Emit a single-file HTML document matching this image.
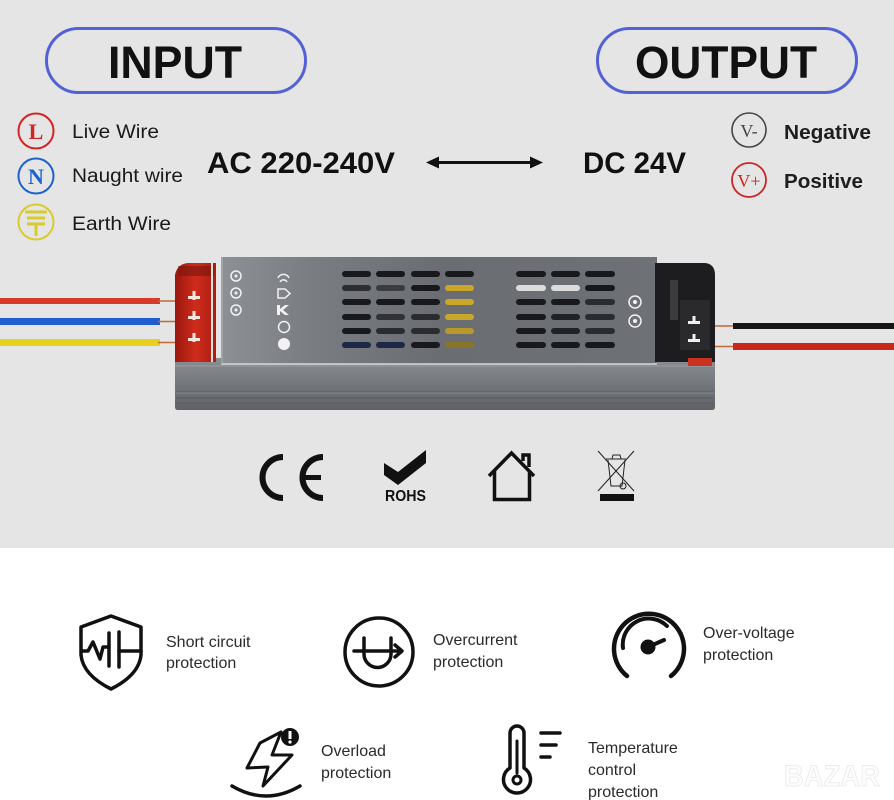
<!DOCTYPE html>
<html><head><meta charset="utf-8"><style>
html,body{margin:0;padding:0;background:#fff;}
svg{display:block;}
text{font-family:"Liberation Sans",Arial,sans-serif;}
</style></head><body>
<svg width="894" height="800" viewBox="0 0 894 800" xmlns="http://www.w3.org/2000/svg">
<defs>
<linearGradient id="plate" x1="0" y1="0" x2="1" y2="0">
<stop offset="0" stop-color="#8d9095"/><stop offset="0.2" stop-color="#7a7d82"/><stop offset="0.5" stop-color="#6a6d72"/><stop offset="1" stop-color="#6e7176"/>
</linearGradient>
<linearGradient id="ext" x1="0" y1="0" x2="0" y2="1">
<stop offset="0" stop-color="#8b8e93"/><stop offset="0.5" stop-color="#74777c"/><stop offset="1" stop-color="#5e6166"/>
</linearGradient>
<linearGradient id="red" x1="0" y1="0" x2="1" y2="0">
<stop offset="0" stop-color="#9a170e"/><stop offset="0.5" stop-color="#cf2c1c"/><stop offset="1" stop-color="#a81e12"/>
</linearGradient>
</defs>
<rect x="0" y="0" width="894" height="548" fill="#e5e5e5"/>
<rect x="0" y="548" width="894" height="252" fill="#ffffff"/>

<!-- pills -->
<rect x="46.5" y="28.5" width="259" height="64" rx="32" fill="none" stroke="#5262d4" stroke-width="3"/>
<text x="175" y="78" font-size="45" font-weight="bold" text-anchor="middle" fill="#111" textLength="134" lengthAdjust="spacingAndGlyphs">INPUT</text>
<rect x="597.5" y="28.5" width="259" height="64" rx="32" fill="none" stroke="#5262d4" stroke-width="3"/>
<text x="726" y="78" font-size="45" font-weight="bold" text-anchor="middle" fill="#111" textLength="182" lengthAdjust="spacingAndGlyphs">OUTPUT</text>

<!-- input legend -->
<circle cx="36" cy="131" r="17.5" fill="none" stroke="#d42323" stroke-width="2"/>
<text x="36" y="139" font-size="22" font-weight="bold" text-anchor="middle" fill="#d42323" style="font-family:'Liberation Serif',serif">L</text>
<circle cx="36" cy="176" r="17.5" fill="none" stroke="#1c62cc" stroke-width="2"/>
<text x="36" y="184" font-size="22" font-weight="bold" text-anchor="middle" fill="#1c62cc" style="font-family:'Liberation Serif',serif">N</text>
<circle cx="36" cy="222" r="17.5" fill="none" stroke="#d9cb2c" stroke-width="2"/>
<g stroke="#d9cb2c" stroke-width="3" stroke-linecap="butt">
<line x1="25" y1="212" x2="47" y2="212"/><line x1="27" y1="218" x2="45" y2="218"/><line x1="27" y1="224" x2="45" y2="224"/><line x1="36" y1="224" x2="36" y2="236"/>
</g>
<text x="72" y="138" font-size="19" fill="#1a1a1a" textLength="87" lengthAdjust="spacingAndGlyphs">Live Wire</text>
<text x="72" y="182" font-size="19" fill="#1a1a1a" textLength="111" lengthAdjust="spacingAndGlyphs">Naught wire</text>
<text x="72" y="230" font-size="19" fill="#1a1a1a" textLength="99" lengthAdjust="spacingAndGlyphs">Earth Wire</text>

<!-- voltages -->
<text x="207" y="173" font-size="30" font-weight="bold" fill="#111" textLength="188" lengthAdjust="spacingAndGlyphs">AC 220-240V</text>
<text x="583" y="173" font-size="30" font-weight="bold" fill="#111" textLength="103" lengthAdjust="spacingAndGlyphs">DC 24V</text>
<line x1="436" y1="162.5" x2="533" y2="162.5" stroke="#111" stroke-width="3"/>
<polygon points="426,162.5 439,156.5 439,168.5" fill="#111"/>
<polygon points="543,162.5 530,156.5 530,168.5" fill="#111"/>

<!-- output legend -->
<circle cx="749" cy="130" r="17" fill="none" stroke="#444" stroke-width="1.6"/>
<text x="749" y="137" font-size="18" text-anchor="middle" fill="#444" style="font-family:'Liberation Serif',serif">V-</text>
<circle cx="749" cy="180" r="17" fill="none" stroke="#cc2424" stroke-width="1.8"/>
<text x="749" y="187" font-size="18" text-anchor="middle" fill="#cc2424" style="font-family:'Liberation Serif',serif">V+</text>
<text x="784" y="139" font-size="20" font-weight="bold" fill="#1e1e1e" textLength="87" lengthAdjust="spacingAndGlyphs">Negative</text>
<text x="784" y="188" font-size="20" font-weight="bold" fill="#1e1e1e" textLength="79" lengthAdjust="spacingAndGlyphs">Positive</text>

<!-- device: wires -->
<rect x="0" y="298" width="160" height="6" fill="#d8392a"/>
<rect x="0" y="318" width="160" height="7" fill="#1f5ed0"/>
<rect x="0" y="339" width="160" height="7" fill="#e6d11f"/>
<g stroke="#c06a3a" stroke-width="1.5">
<line x1="158" y1="301" x2="185" y2="301"/><line x1="158" y1="321.5" x2="185" y2="321.5"/><line x1="158" y1="342.5" x2="185" y2="342.5"/>
<line x1="710" y1="326" x2="735" y2="326"/><line x1="710" y1="346.5" x2="735" y2="346.5"/>
</g>
<rect x="733" y="323" width="161" height="6" fill="#161616"/>
<rect x="733" y="343" width="161" height="7" fill="#c9261d"/>

<!-- lower extrusion -->
<path d="M175 358 L715 358 L715 407 Q715 410 712 410 L178 410 Q175 410 175 407 Z" fill="url(#ext)"/>
<g stroke-width="1">
<line x1="176" y1="366" x2="714" y2="366" stroke="#9a9da2"/>
<line x1="176" y1="392" x2="714" y2="392" stroke="#5a5d62"/>
<line x1="176" y1="393" x2="714" y2="393" stroke="#8e9196"/>
<line x1="176" y1="398" x2="714" y2="398" stroke="#5a5d62"/>
<line x1="176" y1="403" x2="714" y2="403" stroke="#5a5d62"/>
</g>

<!-- red terminal -->
<path d="M175 275 Q177 264 188 263 L216 263 L216 362 L175 362 Z" fill="url(#red)"/>
<rect x="178" y="266" width="36" height="10" fill="#7a150e" opacity="0.6"/>
<line x1="212" y1="262" x2="212" y2="362" stroke="#e0e0e0" stroke-width="2"/>
<g fill="#f4e6e0">
<rect x="188" y="296" width="12" height="3"/><rect x="192.5" y="291" width="3" height="9"/>
<rect x="188" y="316" width="12" height="3"/><rect x="192.5" y="311" width="3" height="9"/>
<rect x="188" y="338" width="12" height="3"/><rect x="192.5" y="333" width="3" height="9"/>
</g>

<!-- top plate -->
<rect x="221" y="257" width="436" height="107" fill="url(#plate)"/>
<line x1="221" y1="364" x2="657" y2="364" stroke="#d8dadd" stroke-width="1.5"/>
<line x1="222" y1="257" x2="222" y2="364" stroke="#a5a8ad" stroke-width="1.5"/>

<!-- vent slots -->
<g fill="#17191c">
<rect x="342" y="271" width="29" height="6" rx="3"/><rect x="376" y="271" width="29" height="6" rx="3"/><rect x="411" y="271" width="29" height="6" rx="3"/>
<rect x="342" y="285" width="29" height="6" rx="3" fill="#2c2e32"/><rect x="376" y="285" width="29" height="6" rx="3" fill="#3a3c40"/><rect x="411" y="285" width="29" height="6" rx="3"/>
<rect x="342" y="299" width="29" height="6" rx="3"/><rect x="376" y="299" width="29" height="6" rx="3"/><rect x="411" y="299" width="29" height="6" rx="3"/>
<rect x="342" y="314" width="29" height="6" rx="3"/><rect x="376" y="314" width="29" height="6" rx="3" fill="#303236"/><rect x="411" y="314" width="29" height="6" rx="3" fill="#2a2c30"/>
<rect x="342" y="328" width="29" height="6" rx="3"/><rect x="376" y="328" width="29" height="6" rx="3" fill="#2a2c30"/><rect x="411" y="328" width="29" height="6" rx="3" fill="#2a2c30"/>
<rect x="342" y="342" width="29" height="6" rx="3" fill="#1c2846"/><rect x="376" y="342" width="29" height="6" rx="3" fill="#1c2846"/><rect x="411" y="342" width="29" height="6" rx="3"/>
<rect x="445" y="271" width="29" height="6" rx="3"/>
<rect x="445" y="285" width="29" height="6" rx="3" fill="#c9a72a"/><rect x="445" y="299" width="29" height="6" rx="3" fill="#c9a72a"/><rect x="445" y="314" width="29" height="6" rx="3" fill="#c9a72a"/><rect x="445" y="328" width="29" height="6" rx="3" fill="#b99a28"/><rect x="445" y="342" width="29" height="6" rx="3" fill="#8a7426"/>
<rect x="516" y="271" width="30" height="6" rx="3"/><rect x="551" y="271" width="29" height="6" rx="3"/><rect x="585" y="271" width="30" height="6" rx="3"/>
<rect x="516" y="285" width="30" height="6" rx="3" fill="#dcdcdc"/><rect x="551" y="285" width="29" height="6" rx="3" fill="#dcdcdc"/><rect x="585" y="285" width="30" height="6" rx="3"/>
<rect x="516" y="299" width="30" height="6" rx="3"/><rect x="551" y="299" width="29" height="6" rx="3"/><rect x="585" y="299" width="30" height="6" rx="3" fill="#2a2c30"/>
<rect x="516" y="314" width="30" height="6" rx="3"/><rect x="551" y="314" width="29" height="6" rx="3" fill="#202226"/><rect x="585" y="314" width="30" height="6" rx="3" fill="#2a2c30"/>
<rect x="516" y="328" width="30" height="6" rx="3"/><rect x="551" y="328" width="29" height="6" rx="3" fill="#202226"/><rect x="585" y="328" width="30" height="6" rx="3" fill="#2a2c30"/>
<rect x="516" y="342" width="30" height="6" rx="3"/><rect x="551" y="342" width="29" height="6" rx="3"/><rect x="585" y="342" width="30" height="6" rx="3"/>
</g>

<!-- plate icons -->
<g fill="none" stroke="#f2f2f2" stroke-width="1.5">
<circle cx="236" cy="276" r="5"/><circle cx="236" cy="293" r="5"/><circle cx="236" cy="310" r="5"/>
<circle cx="635" cy="302" r="6"/><circle cx="635" cy="321" r="6"/>
<path d="M278 278 A6 6 0 0 1 289 278 M280 282 A4 4 0 0 1 287 282"/>
<path d="M278 289 L285 289 L290 293.5 L285 298 L278 298 Z"/>
<circle cx="284" cy="327" r="5.5"/>
</g>
<g fill="#f2f2f2">
<path d="M277 305 L280 305 L280 309 L285 305 L289 305 L283 310 L289 315 L285 315 L280 311 L280 315 L277 315 Z"/>
<circle cx="284" cy="344" r="6"/>
<circle cx="236" cy="276" r="1.5"/><circle cx="236" cy="293" r="1.5"/><circle cx="236" cy="310" r="1.5"/>
<circle cx="635" cy="302" r="2"/><circle cx="635" cy="321" r="2"/>
</g>

<!-- right black terminal -->
<path d="M655 263 L705 263 Q715 264 715 275 L715 362 L655 362 Z" fill="#1d1d1f"/>
<rect x="670" y="280" width="8" height="40" fill="#3a3b3e"/>
<rect x="680" y="300" width="30" height="50" fill="#2a2a2c"/>
<g fill="#f0f0f0">
<rect x="688" y="321" width="12" height="3"/><rect x="692.5" y="316" width="3" height="8"/>
<rect x="688" y="339" width="12" height="3"/><rect x="692.5" y="334" width="3" height="8"/>
</g>
<rect x="688" y="358" width="24" height="8" fill="#c9321f"/>

<!-- certification icons -->
<g fill="none" stroke="#111" stroke-width="6">
<path d="M283 457 A20.5 20.5 0 0 0 283 498"/>
<path d="M323 457 A20.5 20.5 0 0 0 323 498"/>
</g>
<rect x="304" y="475" width="17" height="5" fill="#111"/>
<polygon points="384,463 398,472 426,450 426,463 398,485 384,475" fill="#111"/>
<text x="385" y="501" font-size="16" font-weight="bold" fill="#111" textLength="41" lengthAdjust="spacingAndGlyphs">ROHS</text>
<g fill="none" stroke="#111" stroke-width="3.5" stroke-linejoin="miter">
<path d="M489 476 L511.5 453 L534 476"/>
<path d="M494.5 471 L494.5 499.5 L529.5 499.5 L529.5 471"/>
<path d="M523 461 L523 455 L529 455 L529 467"/>
</g>
<g stroke="#222" stroke-width="1" fill="none">
<line x1="598" y1="451" x2="634" y2="491"/><line x1="634" y1="451" x2="598" y2="491"/>
<path d="M606 459 L626 459 M608 460 L611 486 L622 486 L625 460 M612 459 L613 455 L620 455 L621 459"/>
<circle cx="623" cy="486" r="3"/>
</g>
<rect x="600" y="494" width="34" height="7" fill="#111"/>

<!-- bottom features -->
<g fill="none" stroke="#111" stroke-width="3.5" stroke-linecap="round" stroke-linejoin="round">
<path d="M111 616 L141 627 L141 655 Q139 675 111 689 Q83 675 81 655 L81 627 Z"/>
<polyline points="82,651 88,651 93,642 100,659 103,647 108,647"/>
<line x1="109" y1="633" x2="109" y2="666"/>
<line x1="119" y1="632" x2="119" y2="667"/>
<line x1="119" y1="651" x2="141" y2="651"/>
<circle cx="379" cy="652" r="34"/>
<line x1="354" y1="651" x2="401" y2="651"/>
<polyline points="395,645 402,651 395,657"/>
<path d="M364 638 L364 654 A13.5 13.5 0 0 0 391 654 L391 638"/>
<path d="M627 676 A35 35 0 1 1 671 676" stroke-width="4.5"/>
<path d="M623 648 A26 26 0 0 1 667 626" stroke-width="4"/>
<line x1="648" y1="647" x2="664" y2="640" stroke-width="4"/>
<path d="M260 743 L281 732 L272 755 L292 755 L263 786 L268 767 L247 768 Z" stroke-width="3"/>
<path d="M232 786 Q266 806 300 786"/>
<path d="M510 768 L510 733 A7 7 0 0 1 524 733 L524 768 A13.5 13.5 0 1 1 510 768 Z"/>
<line x1="517" y1="741" x2="517" y2="773" stroke-width="3"/>
<circle cx="517" cy="780" r="4" stroke-width="3"/>
<line x1="541" y1="733" x2="560" y2="733"/>
<line x1="541" y1="745" x2="556" y2="745"/>
<line x1="541" y1="757" x2="550" y2="757"/>
</g>
<circle cx="648" cy="647" r="7.5" fill="#111"/>
<circle cx="290" cy="737" r="9" fill="#111"/>
<rect x="288.5" y="731" width="3" height="8" fill="#fff"/>
<circle cx="290" cy="742" r="1.6" fill="#fff"/>

<g font-size="16" fill="#2a2a2a">
<text x="166" y="647">Short circuit</text>
<text x="166" y="668">protection</text>
<text x="433" y="645">Overcurrent</text>
<text x="433" y="667">protection</text>
<text x="703" y="638">Over-voltage</text>
<text x="703" y="660">protection</text>
<text x="321" y="756">Overload</text>
<text x="321" y="778">protection</text>
<text x="588" y="753">Temperature</text>
<text x="588" y="775">control</text>
<text x="588" y="797">protection</text>
</g>

<!-- watermark -->
<text x="784" y="786" font-size="30" font-weight="bold" fill="#fdfdfd" stroke="#ececec" stroke-width="1" textLength="96" lengthAdjust="spacingAndGlyphs">BAZAR</text>
</svg>
</body></html>
